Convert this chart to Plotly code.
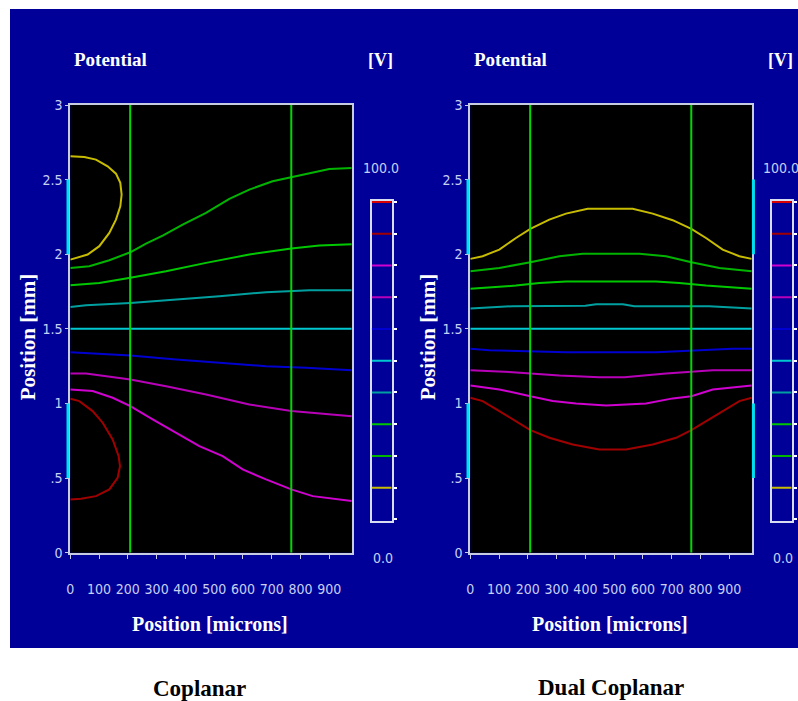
import plotly.graph_objects as go

W, H = 798, 701

# ---------------- data (x in microns, y in mm) ----------------
LEVELS = [10, 20, 30, 40, 50, 60, 70, 80, 90, 100]
LEVEL_COLORS = ["#c8bc00", "#00b400", "#00c800", "#00a0a0", "#00c8d0",
                "#0000d0", "#b800b8", "#d000d0", "#a00000", "#d80000"]

X_TICKS = [0, 100, 200, 300, 400, 500, 600, 700, 800, 900]
Y_TICKS = [0, 0.5, 1, 1.5, 2, 2.5, 3]
Y_TICK_TEXT = ["0", ".5", "1", "1.5", "2", "2.5", "3"]
X_MAX = 978
ELECTRODE_LINES_X = [208, 768]
ELECTRODE_BARS_Y = [[0.5, 1.0], [2.0, 2.5]]
BAR_X_LEFT = -8
BAR_X_RIGHT = 984

# Coplanar contours
cop_10_x = [0, 48.7, 89.2, 129.8, 158.7, 173.8, 178.4, 173.8, 158.7, 135.6, 100.8, 60.3, 0]
cop_10_y = [2.656, 2.652, 2.634, 2.589, 2.540, 2.478, 2.400, 2.321, 2.232, 2.143, 2.054, 1.998, 1.964]
cop_20_x = [0, 66, 135.6, 208.6, 263, 321, 390.5, 471.6, 552.7, 622, 703, 768, 831, 900, 978]
cop_20_y = [1.908, 1.920, 1.960, 2.013, 2.071, 2.125, 2.199, 2.277, 2.371, 2.433, 2.489, 2.516, 2.540, 2.571, 2.578]
cop_30_x = [0, 100.8, 208.6, 332.6, 471.6, 622, 768, 865.6, 978]
cop_30_y = [1.792, 1.808, 1.842, 1.886, 1.942, 1.998, 2.038, 2.058, 2.067]
cop_40_x = [0, 54.5, 208.6, 367.3, 517.9, 680.2, 831, 978]
cop_40_y = [1.647, 1.658, 1.674, 1.696, 1.719, 1.746, 1.759, 1.759]
cop_50_x = [0, 978]
cop_50_y = [1.5, 1.5]
cop_60_x = [0, 100.8, 208.6, 367.3, 541, 680.2, 819, 978]
cop_60_y = [1.344, 1.335, 1.321, 1.295, 1.268, 1.250, 1.239, 1.223]
cop_70_x = [0, 54.5, 208.6, 332.6, 471.6, 622, 768, 912, 978]
cop_70_y = [1.201, 1.201, 1.161, 1.116, 1.060, 0.993, 0.949, 0.926, 0.915]
cop_80_x = [0, 77.6, 147.2, 208.6, 286.2, 367.3, 448.4, 529.5, 599, 680.2, 768, 842.4, 912, 978]
cop_80_y = [1.094, 1.083, 1.038, 0.982, 0.893, 0.804, 0.714, 0.647, 0.558, 0.491, 0.424, 0.379, 0.362, 0.346]
cop_90_x = [0, 31.3, 77.6, 112.4, 147.2, 168, 172.7, 164.5, 135.6, 89.2, 37.1, 0]
cop_90_y = [1.031, 1.016, 0.949, 0.871, 0.759, 0.647, 0.580, 0.502, 0.424, 0.379, 0.362, 0.357]

# Dual coplanar contours
dual_10_x = [0, 42.9, 100.8, 158.7, 208.6, 274.6, 332.6, 407.9, 564.3, 634, 703.4, 768.3, 819.2, 877.2, 935.1, 978]
dual_10_y = [1.969, 1.987, 2.031, 2.109, 2.170, 2.232, 2.272, 2.304, 2.304, 2.272, 2.228, 2.170, 2.109, 2.031, 1.987, 1.969]
dual_20_x = [0, 100.8, 208.6, 309.4, 390.5, 587.5, 680.2, 768.3, 865.6, 978]
dual_20_y = [1.886, 1.908, 1.946, 1.987, 2.004, 2.004, 1.987, 1.946, 1.908, 1.886]
dual_30_x = [0, 158.7, 239.9, 332.6, 645.4, 726.5, 819.2, 978]
dual_30_y = [1.768, 1.790, 1.808, 1.817, 1.817, 1.808, 1.790, 1.768]
dual_40_x = [0, 147, 400, 437, 530, 570, 830, 978]
dual_40_y = [1.636, 1.652, 1.655, 1.665, 1.665, 1.652, 1.652, 1.636]
dual_50_x = [0, 978]
dual_50_y = [1.5, 1.5]
dual_60_x = [0, 66, 332.6, 645.4, 912, 978]
dual_60_y = [1.366, 1.357, 1.344, 1.344, 1.366, 1.366]
dual_70_x = [0, 147.2, 309.4, 448.4, 535.3, 680.2, 842.4, 978]
dual_70_y = [1.223, 1.210, 1.188, 1.176, 1.176, 1.201, 1.223, 1.223]
dual_80_x = [0, 100.8, 208.6, 286.2, 367.3, 471.6, 610.7, 703.4, 768.3, 842.4, 978]
dual_80_y = [1.121, 1.094, 1.049, 1.016, 1.000, 0.987, 1.000, 1.034, 1.049, 1.094, 1.121]
dual_90_x = [0, 42.9, 100.8, 158.7, 208.6, 274.6, 355.7, 448.4, 541, 633.9, 715, 768.3, 819.2, 877.2, 935.1, 978]
dual_90_y = [1.038, 1.016, 0.949, 0.882, 0.821, 0.770, 0.725, 0.692, 0.692, 0.725, 0.770, 0.821, 0.882, 0.949, 1.016, 1.038]

COPLANAR = [(cop_10_x, cop_10_y), (cop_20_x, cop_20_y), (cop_30_x, cop_30_y),
            (cop_40_x, cop_40_y), (cop_50_x, cop_50_y), (cop_60_x, cop_60_y),
            (cop_70_x, cop_70_y), (cop_80_x, cop_80_y), (cop_90_x, cop_90_y)]
DUAL = [(dual_10_x, dual_10_y), (dual_20_x, dual_20_y), (dual_30_x, dual_30_y),
        (dual_40_x, dual_40_y), (dual_50_x, dual_50_y), (dual_60_x, dual_60_y),
        (dual_70_x, dual_70_y), (dual_80_x, dual_80_y), (dual_90_x, dual_90_y)]

PANEL_TITLES = ["Coplanar", "Dual Coplanar"]

# ---------------- styling helpers ----------------
def px(x):
    return x / W

def py(y):
    return 1 - y / H

BG_BLUE = "#000099"
FRAME = "#c8cce0"
TICK_TXT = "#c8d0f0"
NARROW = "Liberation Sans Narrow, DejaVu Sans Condensed, Arial Narrow, sans-serif"
SERIF = "Liberation Serif, Times New Roman, serif"

# plot geometry (pixels)
PLOT_TOP, PLOT_BOT = 105, 552.7
LEFT_X = (70.3, 351.7)
RIGHT_X = (470.3, 751.7)
CB_TOP, CB_BOT = 200.7, 520.7
CB_LEFT_X = (371.7, 391.7)
CB_RIGHT_X = (771.7, 791.7)
SCALE = (LEFT_X[1] - LEFT_X[0]) / X_MAX  # px per micron

fig = go.Figure()

def add_panel(contours, xa, ya):
    for (xs, ys), col in zip(contours, LEVEL_COLORS):
        fig.add_trace(go.Scatter(x=xs, y=ys, mode="lines", xaxis=xa, yaxis=ya,
                                 line=dict(color=col, width=2), showlegend=False,
                                 hoverinfo="skip"))
    for ex in ELECTRODE_LINES_X:
        fig.add_trace(go.Scatter(x=[ex, ex], y=[0, 3], mode="lines", xaxis=xa, yaxis=ya,
                                 line=dict(color="#00d800", width=2), showlegend=False,
                                 hoverinfo="skip"))

def add_bars(bx, xa, ya):
    for y0, y1 in ELECTRODE_BARS_Y:
        fig.add_trace(go.Scatter(x=[bx, bx], y=[y0, y1], mode="lines", xaxis=xa, yaxis=ya,
                                 line=dict(color="#00e0f0", width=3), showlegend=False,
                                 hoverinfo="skip"))

def add_colorbar(xa, ya):
    for lv, col in zip(LEVELS, LEVEL_COLORS):
        fig.add_trace(go.Scatter(x=[0, 1], y=[lv, lv], mode="lines", xaxis=xa, yaxis=ya,
                                 line=dict(color=col, width=2), showlegend=False,
                                 hoverinfo="skip"))

add_panel(COPLANAR, "x", "y")
add_panel(DUAL, "x2", "y2")
add_colorbar("x3", "y3")
add_colorbar("x4", "y4")
add_bars(BAR_X_LEFT, "x5", "y")
add_bars(BAR_X_LEFT, "x6", "y2")
add_bars(BAR_X_RIGHT, "x7", "y2")

def main_xaxis(dom, anchor):
    return dict(domain=[px(dom[0]), px(dom[1])], anchor=anchor, range=[0, X_MAX],
                automargin=False,
                showgrid=False, zeroline=False, showline=True, mirror=True,
                linecolor=FRAME, linewidth=2, ticks="outside", ticklen=4,
                tickcolor=FRAME, tickwidth=1, tickvals=X_TICKS,
                tickfont=dict(family=NARROW, size=14, color=TICK_TXT),
                ticklabelstandoff=18)

def strip_xaxis(origin_px, lo_px, hi_px, anchor):
    # narrow invisible strip sharing the micron scale of the main panel
    return dict(domain=[px(lo_px), px(hi_px)], anchor=anchor,
                range=[(lo_px - origin_px) / SCALE, (hi_px - origin_px) / SCALE],
                visible=False, automargin=False, showgrid=False, zeroline=False)

def main_yaxis(anchor):
    return dict(domain=[py(PLOT_BOT), py(PLOT_TOP)], anchor=anchor, range=[0, 3],
                automargin=False,
                showgrid=False, zeroline=False, showline=True, mirror=True,
                linecolor=FRAME, linewidth=2, ticks="outside", ticklen=3,
                tickcolor=FRAME, tickwidth=1, tickvals=Y_TICKS, ticktext=Y_TICK_TEXT,
                tickfont=dict(family=NARROW, size=14, color=TICK_TXT),
                ticklabelstandoff=0)

def cb_xaxis(dom, anchor):
    return dict(domain=[px(dom[0]), px(dom[1])], anchor=anchor, range=[0, 1],
                automargin=False, layer="below traces",
                showgrid=False, zeroline=False, showline=True, mirror=True,
                linecolor="#d8dcf0", linewidth=2, showticklabels=False, ticks="")

def cb_yaxis(anchor):
    return dict(domain=[py(CB_BOT), py(CB_TOP)], anchor=anchor, range=[-0.4, 100.4],
                automargin=False, layer="below traces",
                side="right", showgrid=False, zeroline=False, showline=True, mirror=True,
                linecolor="#d8dcf0", linewidth=2, ticks="outside", ticklen=3,
                tickcolor="#ffffff", tickwidth=2, tickvals=[0] + LEVELS,
                showticklabels=False)

annotations = []

def txt(x, y, s, size, family=SERIF, color="white", bold=True, angle=0, xanchor="center"):
    annotations.append(dict(x=px(x), y=py(y), xref="paper", yref="paper", text=(f"<b>{s}</b>" if bold else s),
                            showarrow=False, font=dict(family=family, size=size, color=color),
                            textangle=angle, xanchor=xanchor, yanchor="middle"))

for (xl, xr), (cl, cr) in [(LEFT_X, CB_LEFT_X), (RIGHT_X, CB_RIGHT_X)]:
    txt(xl + 2, 60, "Potential", 19, xanchor="left")
    txt(cl + 9, 60, "[V]", 18)
    txt(xl - 42, 337, "Position [mm]", 21, angle=-90)
    txt((xl + xr) / 2 - 1, 624, "Position [microns]", 20)
    txt(cl + 9, 168, "100.0", 14, family=NARROW, color=TICK_TXT, bold=False)
    txt(cl + 11, 558, "0.0", 14, family=NARROW, color=TICK_TXT, bold=False)

txt(199, 688, PANEL_TITLES[0], 23, color="black")
txt(611, 687, PANEL_TITLES[1], 23, color="black")

shapes = [dict(type="rect", xref="paper", yref="paper", x0=px(10), x1=1,
               y0=py(648), y1=py(9), fillcolor=BG_BLUE, line=dict(width=0), layer="below")]
for xr_, yr_ in [("x", "y"), ("x2", "y2")]:
    shapes.append(dict(type="rect", xref=f"{xr_} domain", yref=f"{yr_} domain",
                       x0=0, x1=1, y0=0, y1=1, fillcolor="black",
                       line=dict(width=0), layer="below"))

fig.update_layout(
    width=W, height=H, margin=dict(l=0, r=0, t=0, b=0, autoexpand=False),
    paper_bgcolor="white", plot_bgcolor="rgba(0,0,0,0)", showlegend=False,
    xaxis=main_xaxis(LEFT_X, "y"), yaxis=main_yaxis("x"),
    xaxis2=main_xaxis(RIGHT_X, "y2"), yaxis2=main_yaxis("x2"),
    xaxis3=cb_xaxis(CB_LEFT_X, "y3"), yaxis3=cb_yaxis("x3"),
    xaxis4=cb_xaxis(CB_RIGHT_X, "y4"), yaxis4=cb_yaxis("x4"),
    xaxis5=strip_xaxis(LEFT_X[0], LEFT_X[0] - 8, LEFT_X[0] + 2, "y"),
    xaxis6=strip_xaxis(RIGHT_X[0], RIGHT_X[0] - 8, RIGHT_X[0] + 2, "y2"),
    xaxis7=strip_xaxis(RIGHT_X[0], RIGHT_X[1] - 2, RIGHT_X[1] + 8, "y2"),
    shapes=shapes,
    annotations=annotations,
)

fig.write_html("out.html", config={"displayModeBar": False},
               post_script="document.body.style.margin='0px';document.documentElement.style.overflow='hidden';")
